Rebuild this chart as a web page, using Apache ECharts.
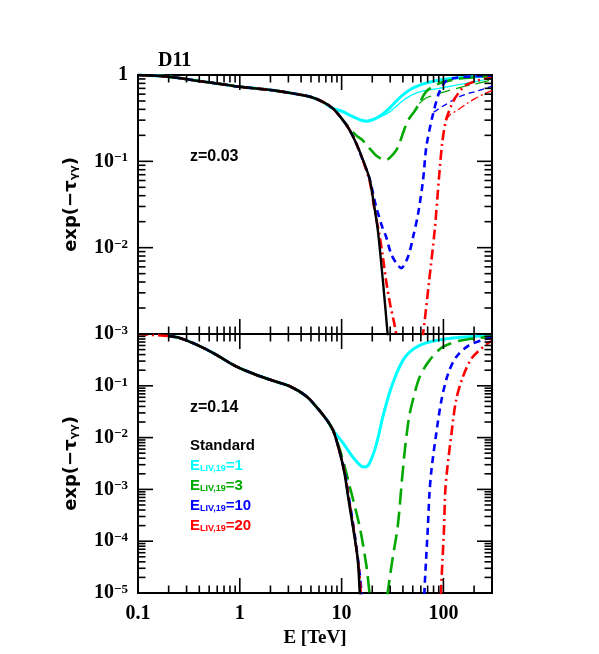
<!DOCTYPE html>
<html><head><meta charset="utf-8">
<script src="https://cdn.jsdelivr.net/npm/echarts@6/dist/echarts.min.js"></script>
<style>html,body{margin:0;padding:0;background:#fff}#c{width:599px;height:654px}</style>
</head><body><div id="c"></div><script>
// ---------- data ----------
// Top panel, z = 0.03
const topSharedE = [0.1, 0.2, 0.4, 0.7, 1, 2, 3.1, 4.9, 6.5, 8.2];
const topSharedV = [1, 0.955, 0.85, 0.776, 0.73, 0.67, 0.62, 0.56, 0.49, 0.41];
const topStdE = [10.3, 12, 13.9, 16.2, 18.8, 20.5, 22.7, 25.4, 28.3, 29.5];
const topStdV = [0.30, 0.23, 0.162, 0.104, 0.063, 0.035, 0.0158, 0.0042, 0.001, 0.0005];
const topCyanE = [10.3, 12, 13.9, 15.6, 17.5, 19.5, 21.8, 25.4, 29.4, 34.5, 40, 47, 54, 66, 91, 130, 200, 300];
const topCyanV = [0.376, 0.343, 0.316, 0.299, 0.292, 0.299, 0.316, 0.355, 0.411, 0.50, 0.589, 0.676, 0.733, 0.80, 0.875, 0.923, 0.955, 0.973];
const topCyanThinE = [19.5, 21.8, 23.5, 29.4, 37, 43, 53.6, 70, 91, 130, 166, 230, 300];
const topCyanThinV = [0.299, 0.316, 0.324, 0.372, 0.468, 0.537, 0.617, 0.668, 0.70, 0.759, 0.80, 0.861, 0.912];
const topGreenE = [10.3, 11.5, 13.9, 16.2, 18.8, 21.8, 25, 27.3, 30, 34.5, 37, 41, 45, 52, 58, 68, 91, 130, 166, 300];
const topGreenV = [0.30, 0.257, 0.20, 0.174, 0.141, 0.117, 0.106, 0.1035, 0.111, 0.135, 0.162, 0.229, 0.30, 0.38, 0.468, 0.646, 0.80, 0.891, 0.923, 0.977];
const topGreenThinE = [58, 67, 78, 106, 150, 193, 250, 300];
const topGreenThinV = [0.468, 0.537, 0.575, 0.646, 0.724, 0.776, 0.832, 0.881];
const topBlueE = [10.3, 12, 13.9, 16.2, 18.8, 21.8, 25.4, 27.3, 30.6, 34.5, 38.5, 45, 50.5, 56.5, 63, 68, 78, 91, 106, 130, 200, 300];
const topBlueV = [0.30, 0.23, 0.162, 0.102, 0.063, 0.030, 0.0166, 0.0135, 0.0085, 0.0066, 0.0058, 0.0079, 0.0135, 0.025, 0.060, 0.148, 0.33, 0.63, 0.85, 0.923, 0.966, 0.982];
const topBlueThinE = [80, 90, 106, 125, 144, 175, 210, 250, 300];
const topBlueThinV = [0.37, 0.407, 0.457, 0.513, 0.562, 0.61, 0.646, 0.692, 0.741];
const topRedE = [10.3, 12, 13.9, 16.2, 18.8, 21, 23.5, 25.4, 27.3, 30, 33, 35, 46, 60, 63, 72.5, 82, 91, 97, 106, 120, 133, 166, 263, 300];
const topRedV = [0.30, 0.23, 0.162, 0.102, 0.060, 0.028, 0.0141, 0.0079, 0.0042, 0.0022, 0.0013, 0.0009, 0.00025, 0.0008, 0.001, 0.0042, 0.0158, 0.070, 0.158, 0.30, 0.447, 0.562, 0.765, 0.912, 0.923];
const topRedThinE = [106, 114, 120, 144, 170, 200, 250, 300];
const topRedThinV = [0.30, 0.339, 0.355, 0.407, 0.468, 0.525, 0.603, 0.661];

// Bottom panel, z = 0.14
const botSharedE = [0.2, 0.26, 0.38, 0.55, 0.8, 1, 1.46, 2.1, 3.1, 4.5, 5.6, 7.1, 8.2];
const botSharedV = [0.912, 0.832, 0.617, 0.427, 0.275, 0.219, 0.162, 0.126, 0.098, 0.063, 0.040, 0.0224, 0.0141];
const botStdE = [9.5, 10.7, 11.5, 12.9, 14.4, 15.1, 15.6];
const botStdV = [0.0056, 0.002, 0.00079, 0.000195, 0.000045, 0.00001, 0.000004];
const botCyanE = [10.3, 13, 15.6, 17, 18.8, 21.8, 25.4, 29.4, 34.5, 40, 46.5, 58.4, 78, 123, 200, 300];
const botCyanV = [0.0079, 0.0041, 0.0028, 0.0027, 0.0032, 0.0071, 0.025, 0.071, 0.17, 0.31, 0.447, 0.603, 0.724, 0.838, 0.902, 0.933];
const botGreenE = [9.5, 10.7, 12, 15, 17.5, 18.8, 20, 26.5, 28.3, 31.6, 35.6, 39, 42, 46, 50, 58.4, 73, 97, 144, 300];
const botGreenV = [0.0063, 0.0028, 0.00115, 0.000195, 0.000034, 0.00001, 0.000004, 0.000004, 0.00001, 0.000045, 0.000195, 0.0014, 0.0063, 0.025, 0.052, 0.148, 0.31, 0.55, 0.741, 0.891];
const botBlueE = [9.5, 10.7, 12, 13.5, 15, 15.7, 17, 64, 65, 67.6, 70.4, 73, 76.5, 85, 95.5, 111, 133, 178, 282, 300];
const botBlueV = [0.0056, 0.00224, 0.00056, 0.000126, 0.000025, 0.00001, 0.0000016, 0.0000025, 0.00001, 0.000045, 0.000195, 0.00087, 0.0025, 0.012, 0.052, 0.17, 0.355, 0.603, 0.838, 0.851];
const botRedStartE = [0.1];
const botRedStartV = [0.99];
const botRedE = [9.5, 10.7, 12, 13.5, 15, 15.4, 16.5, 93, 94.6, 98, 101.6, 104, 109, 120, 133, 155, 193, 282, 300];
const botRedV = [0.0056, 0.0021, 0.00052, 0.000117, 0.000022, 0.00001, 0.0000016, 0.0000025, 0.00001, 0.000045, 0.000195, 0.00087, 0.0025, 0.012, 0.052, 0.148, 0.355, 0.692, 0.724];

// Ticks
const xMajorTicks = [0.1, 1, 10, 100];
const xMinorTicks = [0.2, 0.3, 0.4, 0.5, 0.6, 0.7, 0.8, 0.9, 2, 3, 4, 5, 6, 7, 8, 9, 20, 30, 40, 50, 60, 70, 80, 90, 200, 300];
const minorMantissas = [2, 3, 4, 5, 6, 7, 8, 9];
const topDecades = [-3, -2, -1, 0];
const botDecades = [-5, -4, -3, -2, -1, 0];

const legendLabels = ['Standard', '1', '3', '10', '20'];

// ---------- layout ----------
const GRID_LEFT = 138, GRID_W = 354, GRID_H = 259;
const GRID_TOPS = [75, 334];
const X_MIN = 0.1, X_MAX = 300;
const Y_MIN = [0.001, 0.00001], Y_MAX = 1;

// ---------- helpers ----------
function pairs(E, V) { return E.map((e, i) => [e, V[i]]); }
const C_CYAN = '#00ffff', C_GREEN = '#00a800', C_BLUE = '#0000ff', C_RED = '#ff0000';
const DASH_G = [16, 7], DASH_B = [7, 5], DASH_R = [10, 4, 2, 4];

function line(name, data, grid, color, width, type, z) {
  return {
    type: 'line', name: name, xAxisIndex: grid, yAxisIndex: grid, data: data,
    showSymbol: false, symbol: 'none', smooth: 0.3, clip: true, z: z || 3,
    lineStyle: { color: color, width: width, type: type || 'solid' }
  };
}
const yMajor = (decs) => decs.map(k => Math.pow(10, k));
const yMinor = (decs) => {
  const out = [];
  decs.slice(0, -1).forEach(k => minorMantissas.forEach(m => out.push(m * Math.pow(10, k))));
  return out;
};

const LABEL_FONT = 'Liberation Serif';
function yFmt(hideOne) {
  return function (v) {
    const l = Math.log10(v), e = Math.round(l);
    if (Math.abs(l - e) > 1e-6) return '';
    if (e === 0) return hideOne ? '' : '1';
    return '10{s|\u2212' + Math.abs(e) + '}';
  };
}
function xFmt(v) {
  const l = Math.log10(v), e = Math.round(l);
  if (Math.abs(l - e) > 1e-6) return '';
  return e === -1 ? '0.1' : String(Math.pow(10, e));
}
const yName = 'exp(\u2212\u03c4{sub|\u03b3\u03b3})';
const yNameStyle = {
  fontFamily: 'DejaVu Sans', fontWeight: 'bold', fontSize: 18, color: '#000',
  rich: { sub: { fontFamily: 'DejaVu Sans', fontWeight: 'bold', fontSize: 11, verticalAlign: 'bottom', color: '#000' } }
};
function mainAxis(grid, lo, hi, extra) {
  return Object.assign({
    gridIndex: grid, type: 'log', logBase: 10, min: lo, max: hi,
    axisLine: { show: false, onZero: false }, axisTick: { show: false }, splitLine: { show: false }, minorTick: { show: false },
    axisLabel: { show: false }
  }, extra || {});
}
const yLabel = (hideOne) => ({
  show: true, margin: 10, formatter: yFmt(hideOne), color: '#000',
  fontFamily: LABEL_FONT, fontWeight: 'bold', fontSize: 20,
  rich: { s: { fontFamily: LABEL_FONT, fontWeight: 'bold', fontSize: 13, verticalAlign: 'top', color: '#000' } }
});

// text annotations
const graphics = [
  { type: 'text', left: 158, top: 51, style: { text: 'D11', font: 'bold 20px "Liberation Serif"', fill: '#000' } },
  { type: 'text', left: 190, top: 149, style: { text: 'z=0.03', font: 'bold 16px "Liberation Sans"', fill: '#000' } },
  { type: 'text', left: 190, top: 400, style: { text: 'z=0.14', font: 'bold 16px "Liberation Sans"', fill: '#000' } },
  { type: 'text', left: 190, top: 438, style: { text: legendLabels[0], font: 'bold 15px "Liberation Sans"', fill: '#000' } }
].concat([C_CYAN, C_GREEN, C_BLUE, C_RED].map((c, i) => ({
  type: 'text', left: 190, top: 458 + i * 20,
  style: {
    text: '{b|E}{s|LIV,19}{b|=' + legendLabels[i + 1] + '}', fill: c,
    rich: {
      b: { fontFamily: 'Liberation Sans', fontWeight: 'bold', fontSize: 15, fill: c, verticalAlign: 'bottom' },
      s: { fontFamily: 'Liberation Sans', fontWeight: 'bold', fontSize: 9, fill: c, verticalAlign: 'bottom' }
    }
  }
})));

// axis tick marks (log position inside each panel frame, same range as the axes)
function logFrac(v, lo, hi) { return (Math.log10(v) - Math.log10(lo)) / (Math.log10(hi) - Math.log10(lo)); }
function seg(x1, y1, x2, y2) {
  graphics.push({ type: 'line', z: 50, shape: { x1: x1, y1: y1, x2: x2, y2: y2 }, style: { stroke: '#000', lineWidth: 1.6 } });
}
[0, 1].forEach(g => {
  const yT = GRID_TOPS[g], yB = GRID_TOPS[g] + GRID_H;
  const xL = GRID_LEFT, xR = GRID_LEFT + GRID_W;
  const decs = g === 0 ? topDecades : botDecades;
  [[xMajorTicks, 15], [xMinorTicks, 7.5]].forEach(pair => {
    pair[0].forEach(v => {
      const px = xL + logFrac(v, X_MIN, X_MAX) * GRID_W;
      seg(px, yB, px, yB - pair[1]);
      seg(px, yT, px, yT + pair[1]);
    });
  });
  [[yMajor(decs), 15], [yMinor(decs), 7.5]].forEach(pair => {
    pair[0].forEach(v => {
      const py = yB - logFrac(v, Y_MIN[g], Y_MAX) * GRID_H;
      seg(xL, py, xL + pair[1], py);
      seg(xR, py, xR - pair[1], py);
    });
  });
});

// ---------- chart ----------
const chart = echarts.init(document.getElementById('c'), null, { renderer: 'canvas' });
chart.setOption({
  animation: false,
  backgroundColor: '#fff',
  grid: [
    { left: GRID_LEFT, top: GRID_TOPS[0], width: GRID_W, height: GRID_H, show: true, borderColor: '#000', borderWidth: 2, backgroundColor: 'transparent' },
    { left: GRID_LEFT, top: GRID_TOPS[1], width: GRID_W, height: GRID_H, show: true, borderColor: '#000', borderWidth: 2, backgroundColor: 'transparent' }
  ],
  xAxis: [
    mainAxis(0, X_MIN, X_MAX, { position: 'bottom' }),
    mainAxis(1, X_MIN, X_MAX, {
      position: 'bottom',
      name: 'E [TeV]', nameLocation: 'middle', nameGap: 36,
      nameTextStyle: { fontFamily: LABEL_FONT, fontWeight: 'bold', fontSize: 19, color: '#000' },
      axisLabel: { show: true, margin: 11, formatter: xFmt, color: '#000', fontFamily: LABEL_FONT, fontWeight: 'bold', fontSize: 20 }
    })
  ],
  yAxis: [
    mainAxis(0, Y_MIN[0], Y_MAX, { position: 'left', axisLabel: yLabel(false),
      name: yName, nameLocation: 'middle', nameRotate: 90, nameGap: 58, nameTextStyle: yNameStyle }),
    mainAxis(1, Y_MIN[1], Y_MAX, { position: 'left', axisLabel: yLabel(true),
      name: yName, nameLocation: 'middle', nameRotate: 90, nameGap: 58, nameTextStyle: yNameStyle })
  ],
  series: [
    // top panel
    line('cyanThin', pairs(topCyanThinE, topCyanThinV), 0, C_CYAN, 1.4),
    line('greenThin', pairs(topGreenThinE, topGreenThinV), 0, C_GREEN, 1.3, [14, 6]),
    line('blueThin', pairs(topBlueThinE, topBlueThinV), 0, C_BLUE, 1.3, [6, 4]),
    line('redThin', pairs(topRedThinE, topRedThinV), 0, C_RED, 1.3, [8, 3, 2, 3]),
    line('cyan', pairs(topSharedE.concat(topCyanE), topSharedV.concat(topCyanV)), 0, C_CYAN, 3),
    line('green', pairs(topSharedE.concat(topGreenE), topSharedV.concat(topGreenV)), 0, C_GREEN, 2.6, DASH_G),
    line('blue', pairs(topSharedE.concat(topBlueE), topSharedV.concat(topBlueV)), 0, C_BLUE, 2.6, DASH_B),
    line('red', pairs(topSharedE.concat(topRedE), topSharedV.concat(topRedV)), 0, C_RED, 2.6, DASH_R),
    line('std', pairs(topSharedE.concat(topStdE), topSharedV.concat(topStdV)), 0, '#000', 2.4, 'solid', 4),
    // bottom panel
    line('cyan', pairs(botSharedE.concat(botCyanE), botSharedV.concat(botCyanV)), 1, C_CYAN, 3),
    line('green', pairs(botSharedE.concat(botGreenE), botSharedV.concat(botGreenV)), 1, C_GREEN, 2.6, DASH_G),
    line('blue', pairs(botSharedE.concat(botBlueE), botSharedV.concat(botBlueV)), 1, C_BLUE, 2.6, DASH_B),
    line('red', pairs(botRedStartE.concat(botSharedE, botRedE), botRedStartV.concat(botSharedV, botRedV)), 1, C_RED, 2.6, DASH_R),
    line('std', pairs(botSharedE.concat(botStdE), botSharedV.concat(botStdV)), 1, '#000', 2.6, 'solid', 4)
  ],
  graphic: graphics
});
</script></body></html>
